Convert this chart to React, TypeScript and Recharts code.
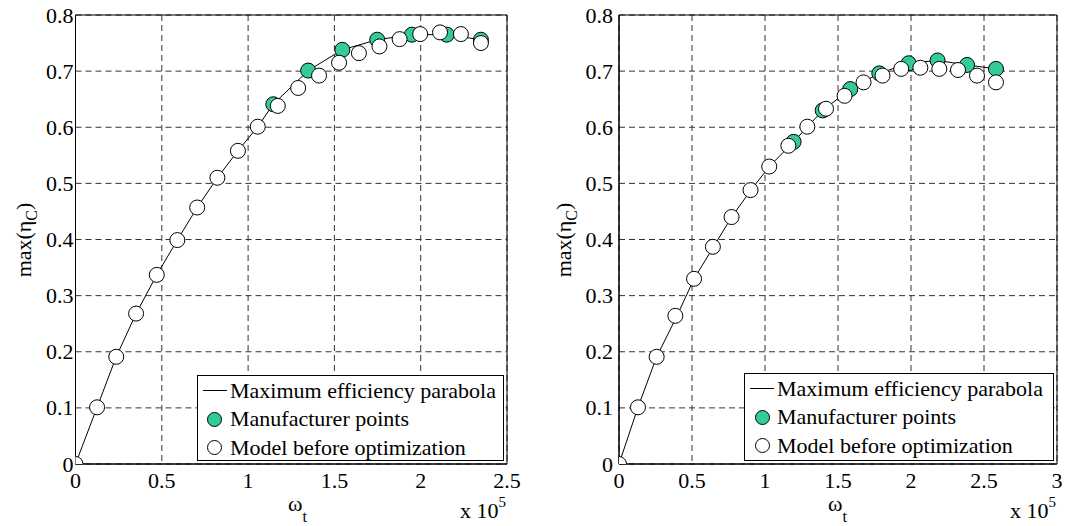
import React from "react";
import {
  ComposedChart,
  Line,
  Scatter,
  XAxis,
  YAxis,
  CartesianGrid,
  ReferenceArea,
  Legend,
} from "recharts";

// Left panel (x in units of 1e5)
const leftModelX = [0, 0.125, 0.236, 0.351, 0.471, 0.59, 0.705, 0.822, 0.941, 1.056, 1.172, 1.29, 1.411, 1.527, 1.642, 1.761, 1.878, 1.997, 2.112, 2.233, 2.349];
const leftModelY = [0, 0.101, 0.191, 0.268, 0.337, 0.399, 0.457, 0.51, 0.558, 0.601, 0.638, 0.67, 0.692, 0.715, 0.732, 0.744, 0.757, 0.766, 0.769, 0.766, 0.75];
const leftMfrX = [1.146, 1.348, 1.546, 1.748, 1.949, 2.151, 2.349];
const leftMfrY = [0.641, 0.701, 0.738, 0.756, 0.765, 0.765, 0.756];
const leftCurveX = [0, 0.125, 0.236, 0.351, 0.471, 0.59, 0.705, 0.822, 0.941, 1.056, 1.146, 1.348, 1.546, 1.748, 1.949, 2.151, 2.349];
const leftCurveY = [0, 0.101, 0.191, 0.268, 0.337, 0.399, 0.457, 0.51, 0.558, 0.601, 0.641, 0.701, 0.738, 0.756, 0.765, 0.765, 0.756];
const leftTicksX = [0, 0.5, 1, 1.5, 2, 2.5];

// Right panel
const rightModelX = [0, 0.13, 0.258, 0.386, 0.514, 0.643, 0.771, 0.901, 1.029, 1.16, 1.29, 1.418, 1.545, 1.675, 1.805, 1.933, 2.064, 2.194, 2.322, 2.452, 2.582];
const rightModelY = [0, 0.101, 0.191, 0.264, 0.33, 0.387, 0.44, 0.488, 0.53, 0.567, 0.601, 0.633, 0.656, 0.68, 0.692, 0.704, 0.706, 0.704, 0.702, 0.692, 0.68];
const rightMfrX = [1.196, 1.395, 1.584, 1.783, 1.984, 2.182, 2.384, 2.582];
const rightMfrY = [0.574, 0.63, 0.668, 0.696, 0.714, 0.719, 0.711, 0.704];
const rightCurveX = [0, 0.13, 0.258, 0.39, 0.514, 0.643, 0.771, 0.901, 1.029, 1.196, 1.395, 1.584, 1.783, 1.984, 2.182, 2.384, 2.582];
const rightCurveY = [0, 0.101, 0.191, 0.26, 0.33, 0.385, 0.44, 0.487, 0.53, 0.574, 0.63, 0.668, 0.696, 0.714, 0.719, 0.711, 0.704];
const rightTicksX = [0, 0.5, 1, 1.5, 2, 2.5, 3];

const ticksY = [0, 0.1, 0.2, 0.3, 0.4, 0.5, 0.6, 0.7, 0.8];
const legendLabels = ["Maximum efficiency parabola", "Manufacturer points", "Model before optimization"];

const GREEN = "#33cc99";
const FONT = "Liberation Serif, Times New Roman, serif";

const zip = (xs: number[], ys: number[]) => xs.map((x, i) => ({ x, y: ys[i] }));

const dot = (fill: string) => (props: any) => (
  <circle cx={props.cx} cy={props.cy} r={7.5} fill={fill} stroke="#000" strokeWidth={1} />
);

// plain MATLAB-style tick text
const XTick = (props: any) => (
  <text x={props.x} y={props.y + 24} textAnchor="middle" fontFamily={FONT} fontSize={22} fill="#000">
    {props.payload.value}
  </text>
);
const YTick = (props: any) => (
  <text x={props.x} y={props.y + 7.5} textAnchor="end" fontFamily={FONT} fontSize={22} fill="#000">
    {props.payload.value}
  </text>
);

function LegendBox({ markerX }: { markerX: number }) {
  const text: React.CSSProperties = {
    position: "absolute",
    left: 32,
    fontFamily: FONT,
    fontSize: 22,
    lineHeight: "22px",
    whiteSpace: "nowrap",
    color: "#000",
  };
  const circle = (fill: string, top: number): React.CSSProperties => ({
    position: "absolute",
    left: markerX - 7.5,
    top: top - 7.5,
    width: 15,
    height: 15,
    boxSizing: "border-box",
    borderRadius: "50%",
    border: "1px solid #000",
    background: fill,
  });
  return (
    <div
      style={{
        position: "relative",
        width: "100%",
        height: "100%",
        boxSizing: "border-box",
        border: "1px solid #000",
        background: "#fff",
      }}
    >
      <div style={{ position: "absolute", left: 5, top: 14, width: 24, height: 1, background: "#000" }} />
      <div style={{ ...text, top: 4 }}>{legendLabels[0]}</div>
      <div style={circle(GREEN, 43)} />
      <div style={{ ...text, top: 32 }}>{legendLabels[1]}</div>
      <div style={circle("#fff", 71.5)} />
      <div style={{ ...text, top: 61 }}>{legendLabels[2]}</div>
    </div>
  );
}

interface PanelProps {
  width: number;
  plotLeft: number;
  plotRight: number;
  xMax: number;
  ticksX: number[];
  curve: { x: number; y: number }[];
  mfr: { x: number; y: number }[];
  model: { x: number; y: number }[];
  legend: { left: number; top: number; width: number; height: number; markerX: number };
  yLabelX: number;
  xLabelX: number;
  x10X: number;
  yTickMargin: number;
}

function Panel(p: PanelProps) {
  const height = 526;
  const plotTop = 15;
  const plotBottom = 464;
  const yAxisW = 60;
  const xAxisH = 30;
  return (
    <div style={{ position: "relative", width: p.width, height }}>
      <ComposedChart
        width={p.width}
        height={height}
        margin={{
          top: plotTop,
          right: p.width - p.plotRight,
          bottom: height - plotBottom - xAxisH,
          left: p.plotLeft - yAxisW,
        }}
      >
        <CartesianGrid stroke="#333" strokeDasharray="6 4" />
        <XAxis
          type="number"
          dataKey="x"
          domain={[0, p.xMax]}
          ticks={p.ticksX}
          height={xAxisH}
          tick={<XTick />}
          tickSize={0}
          tickMargin={0}
          tickLine={false}
          axisLine={{ stroke: "#000" }}
          allowDataOverflow
        />
        <YAxis
          type="number"
          dataKey="y"
          domain={[0, 0.8]}
          ticks={ticksY}
          width={yAxisW}
          tick={<YTick />}
          tickSize={0}
          tickMargin={p.yTickMargin}
          tickLine={false}
          axisLine={{ stroke: "#000" }}
          allowDataOverflow
        />
        <ReferenceArea x1={0} x2={p.xMax} y1={0} y2={0.8} fill="none" stroke="#000" strokeWidth={1} />
        <Line
          data={p.curve}
          dataKey="y"
          type="linear"
          stroke="#000"
          strokeWidth={1}
          dot={false}
          isAnimationActive={false}
        />
        <Scatter data={p.mfr} dataKey="y" shape={dot(GREEN)} isAnimationActive={false} />
        <Scatter data={p.model} dataKey="y" shape={dot("#fff")} isAnimationActive={false} />
        <Legend
          layout="vertical"
          align="center"
          verticalAlign="middle"
          wrapperStyle={{
            left: p.legend.left,
            top: p.legend.top,
            width: p.legend.width,
            height: p.legend.height,
          }}
          content={() => <LegendBox markerX={p.legend.markerX} />}
        />
      </ComposedChart>
      <svg
        width={p.width}
        height={height}
        style={{ position: "absolute", left: 0, top: 0, pointerEvents: "none" }}
      >
        <text
          transform={`translate(${p.yLabelX},240) rotate(-90)`}
          textAnchor="middle"
          fontFamily={FONT}
          fontSize={22}
          fill="#000"
        >
          max(η<tspan fontSize={16} dy={6}>C</tspan>
          <tspan dy={-6}>)</tspan>
        </text>
        <text x={p.xLabelX} y={511} fontFamily={FONT} fontSize={22} fill="#000">
          ω<tspan fontSize={16} dy={11}>t</tspan>
        </text>
        <text x={p.x10X} y={518} fontFamily={FONT} fontSize={22} fill="#000">
          x 10<tspan fontSize={15} dy={-11}>5</tspan>
        </text>
      </svg>
    </div>
  );
}

export default function App() {
  return (
    <div style={{ position: "absolute", left: 0, top: 0, width: 1073, height: 526, background: "#fff" }}>
      <div style={{ position: "absolute", left: 0, top: 0 }}>
        <Panel
          width={540}
          plotLeft={75.5}
          plotRight={507}
          xMax={2.5}
          ticksX={leftTicksX}
          curve={zip(leftCurveX, leftCurveY)}
          mfr={zip(leftMfrX, leftMfrY)}
          model={zip(leftModelX, leftModelY)}
          legend={{ left: 197, top: 375, width: 307, height: 86, markerX: 16.5 }}
          yLabelX={31}
          xLabelX={288}
          x10X={460}
          yTickMargin={2}
        />
      </div>
      <div style={{ position: "absolute", left: 540, top: 0 }}>
        <Panel
          width={533}
          plotLeft={79}
          plotRight={517}
          xMax={3}
          ticksX={rightTicksX}
          curve={zip(rightCurveX, rightCurveY)}
          mfr={zip(rightMfrX, rightMfrY)}
          model={zip(rightModelX, rightModelY)}
          legend={{ left: 204, top: 373, width: 310, height: 88, markerX: 17 }}
          yLabelX={31}
          xLabelX={288}
          x10X={470}
          yTickMargin={6}
        />
      </div>
    </div>
  );
}
